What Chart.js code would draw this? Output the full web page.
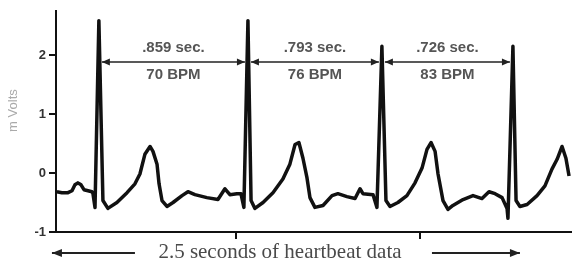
<!DOCTYPE html>
<html>
<head>
<meta charset="utf-8">
<script src="https://cdn.jsdelivr.net/npm/chart.js@4/dist/chart.umd.min.js"></script>
<style>
  html, body { margin: 0; padding: 0; background: #fff; }
  #wrap { width: 572px; height: 272px; position: relative; }
</style>
</head>
<body>
<div id="wrap"><canvas id="ecgChart"></canvas></div>
<script>
// ECG trace, time in seconds and amplitude in millivolts
const times = [
  0.027, 0.054, 0.087, 0.109, 0.125, 0.141, 0.158, 0.174, 0.196, 0.217, 0.223, 0.234,
  0.255, 0.277, 0.304, 0.353, 0.408, 0.451, 0.478, 0.505, 0.533, 0.549, 0.571, 0.582,
  0.598, 0.625, 0.658, 0.707, 0.739, 0.777, 0.842, 0.902, 0.940, 0.967, 1.005, 1.027,
  1.043, 1.065, 1.082, 1.103, 1.147, 1.201, 1.255, 1.293, 1.321, 1.342, 1.364, 1.386,
  1.402, 1.429, 1.473, 1.522, 1.554, 1.603, 1.647, 1.674, 1.690, 1.745, 1.766, 1.793,
  1.815, 1.837, 1.880, 1.929, 1.973, 2.011, 2.038, 2.060, 2.082, 2.098, 2.125, 2.152,
  2.179, 2.234, 2.288, 2.337, 2.375, 2.408, 2.446, 2.473, 2.478, 2.505, 2.522, 2.543,
  2.582, 2.636, 2.679, 2.717, 2.745, 2.772, 2.793, 2.810
];
const mVolts = [
  -0.317, -0.333, -0.333, -0.300, -0.200, -0.167, -0.200, -0.283, -0.300, -0.317, -0.350, -0.583,
  2.583, -0.467, -0.600, -0.500, -0.333, -0.183, -0.017, 0.317, 0.450, 0.367, 0.150, -0.183,
  -0.467, -0.567, -0.500, -0.383, -0.317, -0.367, -0.417, -0.450, -0.267, -0.367, -0.350, -0.350,
  -0.583, 2.583, -0.467, -0.600, -0.500, -0.333, -0.100, 0.150, 0.483, 0.517, 0.250, -0.083,
  -0.417, -0.583, -0.550, -0.383, -0.350, -0.400, -0.433, -0.267, -0.350, -0.367, -0.583, 2.150,
  -0.467, -0.567, -0.500, -0.383, -0.167, 0.083, 0.400, 0.517, 0.367, -0.017, -0.467, -0.617,
  -0.550, -0.450, -0.383, -0.433, -0.317, -0.350, -0.417, -0.600, -0.767, 2.150, -0.467, -0.567,
  -0.533, -0.383, -0.217, 0.067, 0.233, 0.450, 0.250, -0.050
];

// R-R intervals
const rPeakTimes = [0.255, 1.065, 1.793, 2.505];
const intervalLabels = ['.859 sec.', '.793 sec.', '.726 sec.'];
const bpmLabels = ['70 BPM', '76 BPM', '83 BPM'];
const arrowLevel = 1.88;
const secLevel = 2.12;
const bpmLevel = 1.66;

const yTicks = [-1, 0, 1, 2];
const xTicks = [1, 2];
const footerText = '2.5 seconds of heartbeat data';
const footerArrows = [[0.451, 0.0], [2.065, 2.543]];
const footerCenter = 1.239;

const points = times.map((t, i) => ({ x: t, y: mVolts[i] }));

function arrowHead(c, x, y, dir, len, half) {
  c.beginPath();
  c.moveTo(x, y);
  c.lineTo(x - dir * len, y - half);
  c.lineTo(x - dir * len, y + half);
  c.closePath();
  c.fill();
}

const annotations = {
  id: 'annotations',
  afterDatasetsDraw(chart) {
    const c = chart.ctx;
    const xs = chart.scales.x, ys = chart.scales.y;
    c.save();
    c.strokeStyle = '#222';
    c.fillStyle = '#222';
    c.lineWidth = 1.5;

    // interval arrows between R peaks
    const ay = ys.getPixelForValue(arrowLevel);
    for (let i = 0; i < intervalLabels.length; i++) {
      const x1 = xs.getPixelForValue(rPeakTimes[i]) + 3;
      const x2 = xs.getPixelForValue(rPeakTimes[i + 1]) - 3;
      c.beginPath();
      c.moveTo(x1, ay);
      c.lineTo(x2, ay);
      c.stroke();
      arrowHead(c, x1, ay, -1, 8, 3.5);
      arrowHead(c, x2, ay, 1, 8, 3.5);

      const cx = (x1 + x2) / 2;
      c.fillStyle = '#555';
      c.font = 'bold 15px "Liberation Sans", Arial, sans-serif';
      c.textAlign = 'center';
      c.textBaseline = 'middle';
      c.fillText(intervalLabels[i], cx, ys.getPixelForValue(secLevel));
      c.fillText(bpmLabels[i], cx, ys.getPixelForValue(bpmLevel));
      c.fillStyle = '#222';
    }

    // footer caption with arrows
    const fy = xs.bottom - 19;
    c.lineWidth = 2;
    footerArrows.forEach(([from, to]) => {
      const x1 = xs.getPixelForValue(from), x2 = xs.getPixelForValue(to);
      c.beginPath();
      c.moveTo(x1, fy);
      c.lineTo(x2, fy);
      c.stroke();
      arrowHead(c, x2, fy, x2 > x1 ? 1 : -1, 10, 4);
    });
    c.fillStyle = '#4a4a4a';
    c.font = '21px "Liberation Serif", "Times New Roman", serif';
    c.textAlign = 'center';
    c.textBaseline = 'middle';
    c.fillText(footerText, xs.getPixelForValue(footerCenter), fy - 1);
    c.restore();
  }
};

const ctx = document.getElementById('ecgChart').getContext('2d');
new Chart(ctx, {
  type: 'line',
  data: {
    datasets: [{
      data: points,
      borderColor: '#111',
      borderWidth: 3.5,
      borderJoinStyle: 'round',
      pointRadius: 0,
      tension: 0,
      fill: false
    }]
  },
  options: {
    responsive: true,
    maintainAspectRatio: false,
    animation: false,
    layout: { padding: { top: 7, left: 0, right: 0, bottom: 0 } },
    plugins: { legend: { display: false }, tooltip: { enabled: false } },
    scales: {
      x: {
        type: 'linear',
        min: 0.022,
        max: 2.826,
        afterBuildTicks: s => { s.ticks = xTicks.map(v => ({ value: v })); },
        afterFit: s => { s.height = 40; },
        ticks: { display: false },
        grid: { drawOnChartArea: false, drawTicks: true, tickLength: 7, color: '#111', lineWidth: 2 },
        border: { display: true, color: '#111', width: 2 }
      },
      y: {
        min: -1,
        max: 2.75,
        afterBuildTicks: s => { s.ticks = yTicks.map(v => ({ value: v })); },
        afterFit: s => { s.width = 56; },
        ticks: {
          color: '#333',
          padding: 3,
          font: { family: '"Liberation Sans", Arial, sans-serif', size: 13, weight: 'bold' }
        },
        grid: { drawOnChartArea: false, drawTicks: true, tickLength: 7, color: '#111', lineWidth: 2 },
        border: { display: true, color: '#111', width: 2 },
        title: {
          display: true,
          text: '      m Volts',
          color: '#aaa',
          padding: { top: 6, bottom: 0 },
          font: { family: '"Liberation Sans", Arial, sans-serif', size: 13 }
        }
      }
    }
  },
  plugins: [annotations]
});
</script>
</body>
</html>
